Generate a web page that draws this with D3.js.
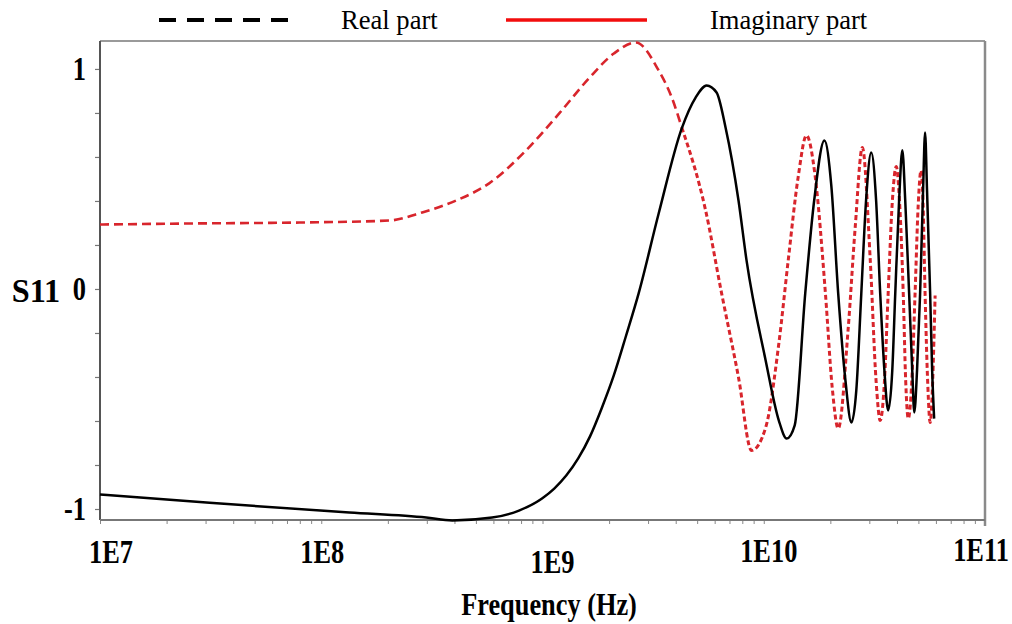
<!DOCTYPE html>
<html><head><meta charset="utf-8">
<script src="https://cdn.jsdelivr.net/npm/d3@7"></script>
<style>body{margin:0;background:#fff}svg{display:block}</style>
</head><body><svg id="chart" width="1012" height="624"></svg>
<script>
// ---- data ----
const realFreq = [1.00e7, 3.13e7, 1.34e8, 2.98e8, 3.91e8, 5.92e8, 7.83e8, 9.95e8, 1.13e9, 1.28e9, 1.45e9, 1.64e9, 1.85e9, 2.10e9, 2.38e9, 2.72e9, 3.35e9, 4.26e9, 4.92e9, 5.52e9, 6.12e9, 6.72e9, 7.69e9, 8.36e9, 1.02e10, 1.17e10, 1.27e10, 1.38e10, 1.54e10, 1.69e10, 1.88e10, 2.02e10, 2.17e10, 2.34e10, 2.49e10, 2.62e10, 2.76e10, 2.90e10, 3.06e10, 3.22e10, 3.36e10, 3.51e10, 3.65e10, 3.81e10, 3.93e10, 4.09e10, 4.23e10, 4.36e10, 4.54e10, 4.69e10, 4.79e10, 4.93e10, 5.09e10, 5.25e10, 5.36e10, 5.47e10, 5.65e10, 5.77e10, 5.89e10];
const realValue = [-0.934, -0.972, -1.016, -1.039, -1.052, -1.039, -1.007, -0.952, -0.907, -0.848, -0.770, -0.670, -0.543, -0.393, -0.216, -0.020, 0.343, 0.730, 0.870, 0.925, 0.893, 0.734, 0.402, 0.130, -0.325, -0.598, -0.680, -0.620, -0.020, 0.402, 0.675, 0.470, -0.020, -0.416, -0.607, -0.461, -0.020, 0.402, 0.620, 0.402, -0.020, -0.370, -0.552, -0.370, -0.020, 0.402, 0.630, 0.402, -0.020, -0.370, -0.561, -0.370, -0.020, 0.448, 0.711, 0.448, -0.020, -0.370, -0.589];
const imagFreq = [1.00e7, 2.82e7, 7.98e7, 2.03e8, 2.86e8, 4.07e8, 5.74e8, 8.43e8, 1.19e9, 1.62e9, 2.10e9, 2.64e9, 3.35e9, 3.84e9, 4.26e9, 5.46e9, 6.45e9, 7.69e9, 8.81e9, 1.02e10, 1.17e10, 1.29e10, 1.43e10, 1.56e10, 1.71e10, 1.90e10, 2.04e10, 2.17e10, 2.41e10, 2.59e10, 2.79e10, 3.03e10, 3.22e10, 3.36e10, 3.51e10, 3.65e10, 3.81e10, 3.97e10, 4.11e10, 4.27e10, 4.38e10, 4.50e10, 4.67e10, 4.83e10, 4.99e10, 5.14e10, 5.25e10, 5.36e10, 5.51e10, 5.65e10, 5.95e10];
const imagValue = [0.293, 0.298, 0.302, 0.311, 0.348, 0.402, 0.480, 0.630, 0.798, 0.957, 1.070, 1.120, 0.993, 0.870, 0.734, 0.357, -0.020, -0.402, -0.734, -0.630, -0.248, 0.130, 0.507, 0.698, 0.507, -0.020, -0.450, -0.634, -0.175, 0.280, 0.643, 0.130, -0.420, -0.598, -0.423, -0.020, 0.394, 0.557, 0.394, -0.020, -0.416, -0.589, -0.416, -0.020, 0.381, 0.539, 0.381, -0.020, -0.429, -0.607, -0.030];
const seriesNames = ["Real part", "Imaginary part"];
const xTickValues = [1e7, 1e8, 1e9, 1e10, 1e11];
const xTickLabels = ["1E7", "1E8", "1E9", "1E10", "1E11"];
const yTickValues = [-1, 0, 1];
const yTickLabels = ["-1", "0", "1"];
const yAxisTitle = "S11";
const xAxisTitle = "Frequency (Hz)";

// ---- layout / style ----
const svg = d3.select("#chart");
const L = 100, R = 985, T = 41, B = 520;
const x = d3.scaleLog().domain([1e7, 1e11]).range([L, R]);
const y = d3.scaleLinear().domain([-1.05, 1.127]).range([B, T]);
const serif = "'Liberation Serif','Times New Roman',serif";
const xLabelNudge = [[11, 0], [1, 0], [10, 10], [5, -1], [-4, -2]];

const realData = realFreq.map((f, i) => ({f, v: realValue[i]}));
const imagData = imagFreq.map((f, i) => ({f, v: imagValue[i]}));

// frame
svg.append("line").attr("x1", L).attr("x2", R).attr("y1", T).attr("y2", T)
  .attr("stroke", "#9a9a9a").attr("stroke-width", 2);
svg.append("line").attr("x1", R).attr("x2", R).attr("y1", T).attr("y2", B + 6)
  .attr("stroke", "#8a8a8a").attr("stroke-width", 2.5);

// y axis
const yAxis = d3.axisLeft(y).tickValues(d3.range(-1, 1.0001, 0.2)).tickSize(5).tickFormat("");
const gy = svg.append("g").attr("transform", `translate(${L},0)`).call(yAxis);
gy.select(".domain").remove();
gy.selectAll(".tick line").attr("stroke", "#777").attr("stroke-width", 1.2);
svg.append("line").attr("x1", L).attr("x2", L).attr("y1", T).attr("y2", B)
  .attr("stroke", "#555").attr("stroke-width", 2);

// x axis
const xAxis = d3.axisBottom(x).tickValues(x.ticks()).tickSize(4).tickFormat("");
const gx = svg.append("g").attr("transform", `translate(0,${B})`).call(xAxis);
gx.select(".domain").remove();
gx.selectAll(".tick line").attr("stroke", "#888").attr("stroke-width", 1);
svg.append("line").attr("x1", L).attr("x2", R).attr("y1", B).attr("y2", B)
  .attr("stroke", "#777").attr("stroke-width", 2);

// tick labels
const bold = (sel) => sel.attr("font-family", serif).attr("font-weight", "bold").attr("fill", "#000");
svg.append("g").selectAll("text").data(xTickValues).join("text")
  .attr("transform", (d, i) => `translate(${x(d) + xLabelNudge[i][0]},${563 + xLabelNudge[i][1]}) scale(0.8,1)`)
  .attr("text-anchor", "middle").attr("font-size", 33).text((d, i) => xTickLabels[i]).call(bold);
svg.append("g").selectAll("text").data(yTickValues).join("text")
  .attr("transform", d => `translate(86,${y(d) + 11}) scale(0.8,1)`)
  .attr("text-anchor", "end").attr("font-size", 33).text((d, i) => yTickLabels[i]).call(bold);
svg.append("text").attr("transform", "translate(36,302) scale(0.95,1)").attr("text-anchor", "middle")
  .attr("font-size", 34).text(yAxisTitle).call(bold);
svg.append("text").attr("transform", "translate(549,615) scale(0.85,1)").attr("text-anchor", "middle")
  .attr("font-size", 31).text(xAxisTitle).call(bold);

// lines
const line = d3.line().x(d => x(d.f)).y(d => y(d.v)).curve(d3.curveMonotoneX);
svg.append("path").datum(imagData.filter(d => d.f <= 4.3e9)).attr("d", line)
  .attr("fill", "none").attr("stroke", "#d8252c").attr("stroke-width", 2.6).attr("stroke-dasharray", "9,5");
svg.append("path").datum(imagData.filter(d => d.f >= 4.26e9)).attr("d", line)
  .attr("fill", "none").attr("stroke", "#d8252c").attr("stroke-width", 3).attr("stroke-dasharray", "5,3");
svg.append("path").datum(realData).attr("d", line)
  .attr("fill", "none").attr("stroke", "#000").attr("stroke-width", 2.5);

// legend
const lg = svg.append("g");
lg.append("line").attr("x1", 159).attr("x2", 290).attr("y1", 20).attr("y2", 20)
  .attr("stroke", "#000").attr("stroke-width", 4).attr("stroke-dasharray", "17,11");
lg.append("text").attr("transform", "translate(341,29) scale(0.95,1)").attr("font-size", 28)
  .attr("font-family", serif).text(seriesNames[0]);
lg.append("line").attr("x1", 506).attr("x2", 647).attr("y1", 20).attr("y2", 20)
  .attr("stroke", "#f20d0d").attr("stroke-width", 3.5);
lg.append("text").attr("transform", "translate(710,29) scale(0.95,1)").attr("font-size", 28)
  .attr("font-family", serif).text(seriesNames[1]);
</script></body></html>
